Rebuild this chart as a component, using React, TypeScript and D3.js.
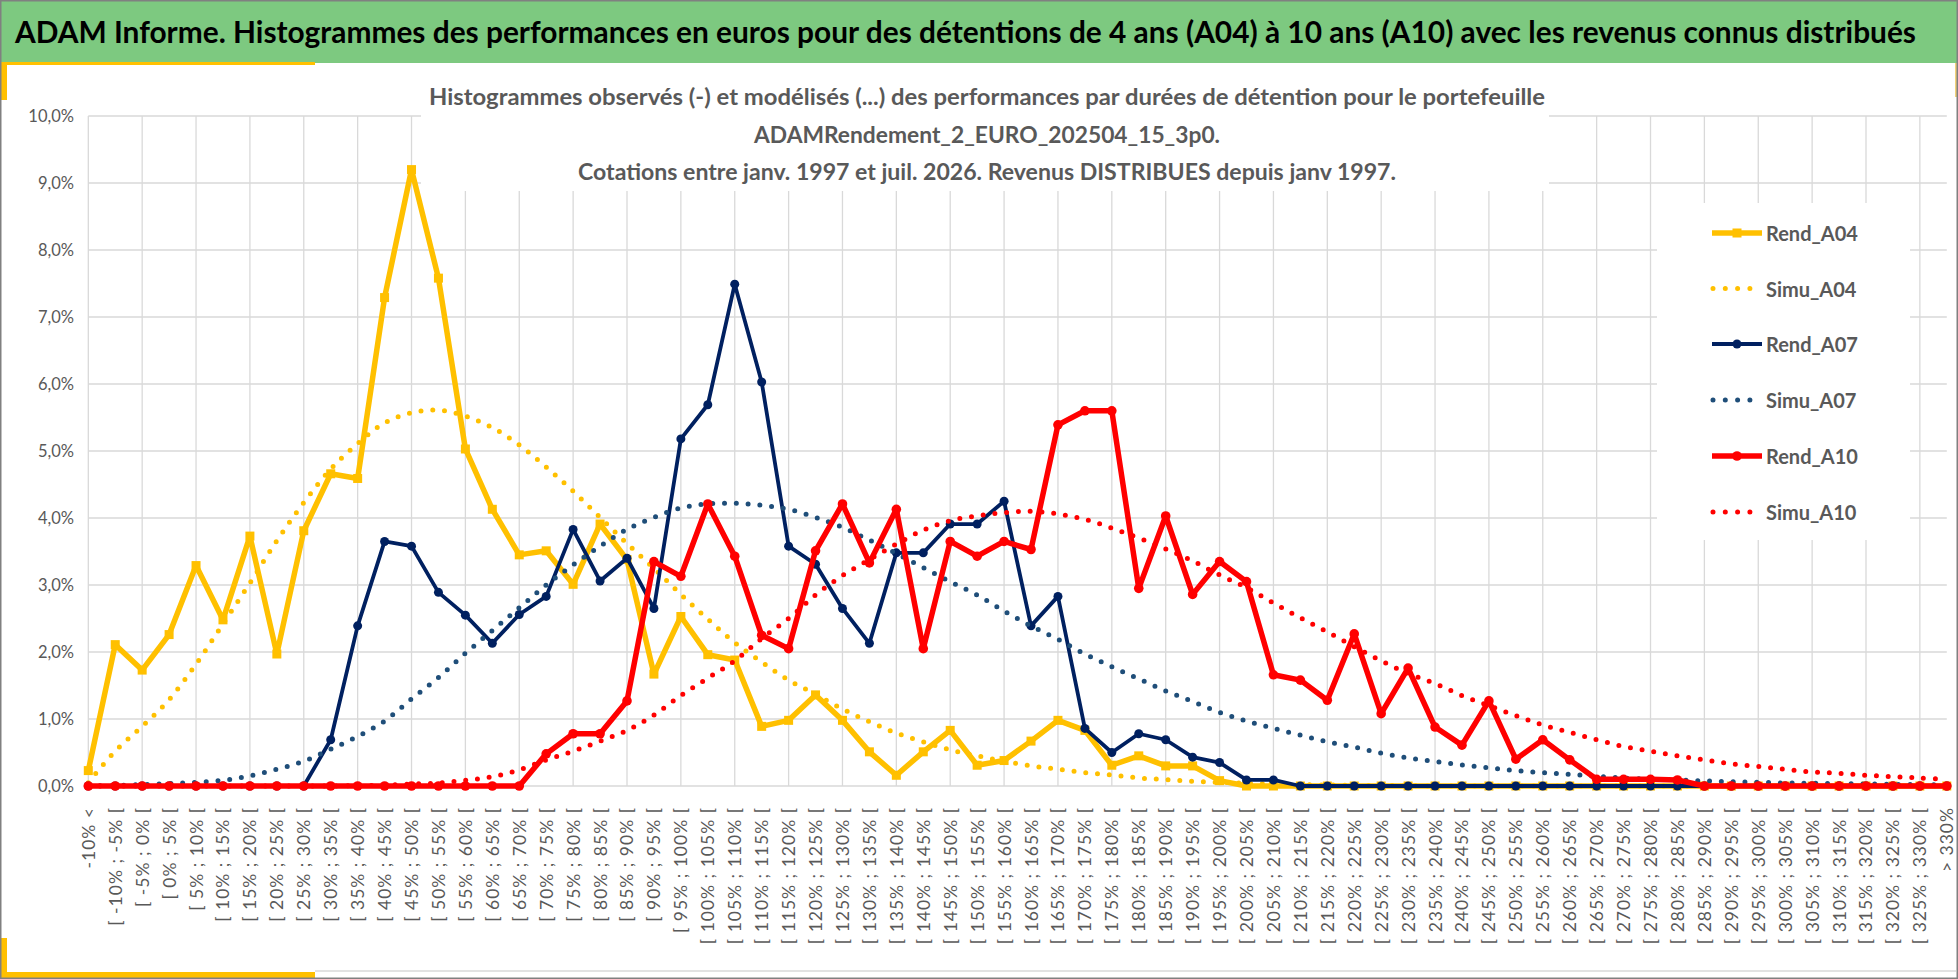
import React from 'react';
import * as d3 from 'd3';

const CATEGORIES: string[] = [
  '-10% <', '[ -10% ; -5% [', '[ -5% ; 0% [', '[ 0% ; 5% [', '[ 5% ; 10% [', '[ 10% ; 15% [', '[ 15% ; 20% [',
  '[ 20% ; 25% [', '[ 25% ; 30% [', '[ 30% ; 35% [', '[ 35% ; 40% [', '[ 40% ; 45% [', '[ 45% ; 50% [',
  '[ 50% ; 55% [', '[ 55% ; 60% [', '[ 60% ; 65% [', '[ 65% ; 70% [', '[ 70% ; 75% [', '[ 75% ; 80% [',
  '[ 80% ; 85% [', '[ 85% ; 90% [', '[ 90% ; 95% [', '[ 95% ; 100% [', '[ 100% ; 105% [', '[ 105% ; 110% [',
  '[ 110% ; 115% [', '[ 115% ; 120% [', '[ 120% ; 125% [', '[ 125% ; 130% [', '[ 130% ; 135% [', '[ 135% ; 140% [',
  '[ 140% ; 145% [', '[ 145% ; 150% [', '[ 150% ; 155% [', '[ 155% ; 160% [', '[ 160% ; 165% [', '[ 165% ; 170% [',
  '[ 170% ; 175% [', '[ 175% ; 180% [', '[ 180% ; 185% [', '[ 185% ; 190% [', '[ 190% ; 195% [', '[ 195% ; 200% [',
  '[ 200% ; 205% [', '[ 205% ; 210% [', '[ 210% ; 215% [', '[ 215% ; 220% [', '[ 220% ; 225% [', '[ 225% ; 230% [',
  '[ 230% ; 235% [', '[ 235% ; 240% [', '[ 240% ; 245% [', '[ 245% ; 250% [', '[ 250% ; 255% [', '[ 255% ; 260% [',
  '[ 260% ; 265% [', '[ 265% ; 270% [', '[ 270% ; 275% [', '[ 275% ; 280% [', '[ 280% ; 285% [', '[ 285% ; 290% [',
  '[ 290% ; 295% [', '[ 295% ; 300% [', '[ 300% ; 305% [', '[ 305% ; 310% [', '[ 310% ; 315% [', '[ 315% ; 320% [',
  '[ 320% ; 325% [', '[ 325% ; 330% [', '> 330%',
];

const REND_A04: number[] = [
  0.23, 2.11, 1.73, 2.26, 3.29, 2.48, 3.73, 1.97, 3.81, 4.66, 4.59, 7.29, 9.2, 7.58, 5.03, 4.13, 3.45, 3.51, 3.01, 3.91,
  3.38, 1.67, 2.53, 1.96, 1.88, 0.89, 0.98, 1.36, 0.98, 0.51, 0.16, 0.51, 0.83, 0.31, 0.38, 0.67, 0.98, 0.83, 0.31, 0.45,
  0.3, 0.3, 0.08, 0, 0, 0, 0, 0, 0, 0, 0, 0, 0, 0, 0, 0, 0, 0, 0, 0, 0, 0, 0, 0, 0, 0, 0, 0, 0, 0,
];

const SIMU_A04: number[] = [
  0.05, 0.52, 0.89, 1.29, 1.82, 2.42, 3.03, 3.66, 4.23, 4.73, 5.11, 5.42, 5.57, 5.61, 5.52, 5.35, 5.09, 4.76, 4.4, 4.01,
  3.62, 3.25, 2.86, 2.49, 2.14, 1.85, 1.58, 1.37, 1.15, 0.96, 0.79, 0.66, 0.54, 0.45, 0.37, 0.3, 0.25, 0.2, 0.165, 0.12,
  0.095, 0.07, 0.055, 0.04, 0.03, 0.02, 0.015, 0.01, 0.008, 0.005, 0, 0, 0, 0, 0, 0, 0, 0, 0, 0, 0, 0, 0, 0, 0, 0, 0, 0, 0, 0,
];

const REND_A07: number[] = [
  0, 0, 0, 0, 0, 0, 0, 0, 0, 0.69, 2.39, 3.65, 3.58, 2.89, 2.55, 2.13, 2.56, 2.83, 3.83, 3.06,
  3.4, 2.65, 5.18, 5.69, 7.49, 6.03, 3.58, 3.31, 2.65, 2.13, 3.48, 3.48, 3.91, 3.91, 4.25, 2.39, 2.83, 0.86, 0.5, 0.78,
  0.69, 0.43, 0.35, 0.09, 0.09, 0, 0, 0, 0, 0, 0, 0, 0, 0, 0, 0, 0, 0, 0, 0, 0, 0, 0, 0, 0, 0, 0, 0, 0, 0,
];

const SIMU_A07: number[] = [
  0, 0.01, 0.02, 0.035, 0.055, 0.085, 0.15, 0.25, 0.37, 0.55, 0.74, 0.97, 1.3, 1.62, 1.98, 2.32, 2.66, 3.0, 3.3, 3.58,
  3.83, 4.01, 4.15, 4.21, 4.22, 4.19, 4.13, 4.01, 3.86, 3.67, 3.47, 3.26, 3.05, 2.85, 2.61, 2.39, 2.19, 1.97, 1.78, 1.6,
  1.42, 1.26, 1.1, 0.97, 0.86, 0.76, 0.66, 0.58, 0.49, 0.42, 0.365, 0.315, 0.27, 0.23, 0.2, 0.175, 0.145, 0.12, 0.1, 0.09,
  0.075, 0.065, 0.055, 0.045, 0.04, 0.035, 0.03, 0.025, 0.02, 0.018,
];

const REND_A10: number[] = [
  0, 0, 0, 0, 0, 0, 0, 0, 0, 0, 0, 0, 0, 0, 0, 0, 0, 0.48, 0.78, 0.78,
  1.27, 3.35, 3.13, 4.21, 3.43, 2.25, 2.05, 3.51, 4.21, 3.33, 4.13, 2.05, 3.65, 3.43, 3.65, 3.53, 5.39, 5.6, 5.6, 2.95,
  4.03, 2.86, 3.35, 3.05, 1.66, 1.58, 1.28, 2.27, 1.08, 1.76, 0.88, 0.61, 1.27, 0.4, 0.69, 0.39, 0.1, 0.1, 0.1, 0.09,
  0, 0, 0, 0, 0, 0, 0, 0, 0, 0,
];

const SIMU_A10: number[] = [
  0, 0, 0, 0, 0, 0, 0, 0, 0, 0, 0.005, 0.01, 0.03, 0.045, 0.085, 0.14, 0.24, 0.39, 0.52, 0.67,
  0.83, 1.06, 1.35, 1.61, 1.87, 2.2, 2.5, 2.85, 3.14, 3.38, 3.61, 3.82, 3.96, 4.03, 4.08, 4.1, 4.06, 3.98, 3.85, 3.7,
  3.54, 3.36, 3.15, 2.96, 2.73, 2.51, 2.3, 2.08, 1.87, 1.68, 1.53, 1.35, 1.2, 1.05, 0.91, 0.8, 0.69, 0.59, 0.52, 0.45,
  0.39, 0.33, 0.29, 0.25, 0.21, 0.19, 0.16, 0.14, 0.12, 0.1,
];

const Y_TICKS: number[] = [0, 1, 2, 3, 4, 5, 6, 7, 8, 9, 10];
const Y_TICK_LABELS: string[] = ['0,0%', '1,0%', '2,0%', '3,0%', '4,0%', '5,0%', '6,0%', '7,0%', '8,0%', '9,0%', '10,0%'];

const SERIES_NAMES: string[] = ['Rend_A04', 'Simu_A04', 'Rend_A07', 'Simu_A07', 'Rend_A10', 'Simu_A10'];

const TITLE =
  'ADAM Informe. Histogrammes des performances en euros pour des détentions de 4 ans (A04) à 10 ans (A10) avec les revenus connus distribués';
const SUBTITLE: string[] = [
  'Histogrammes observés (-) et modélisés (...) des performances par durées de détention pour le portefeuille',
  'ADAMRendement_2_EURO_202504_15_3p0.',
  'Cotations  entre janv. 1997 et juil. 2026. Revenus DISTRIBUES depuis janv 1997.',
];

const W = 1958;
const H = 979;
const FONT = 'Lato, Calibri, "Open Sans", sans-serif';

type Style = {
  name: string;
  data: number[];
  color: string;
  width: number;
  dotted: boolean;
  marker: 'square' | 'circle' | 'none';
  msize: number;
};

export default function App() {
  const x = d3
    .scalePoint<string>()
    .domain(CATEGORIES)
    .range([88.3, 1946.8]);
  const y = d3.scaleLinear().domain([0, 10]).range([786, 116]);

  const straight = d3
    .line<number>()
    .x((_, i) => x(CATEGORIES[i]) as number)
    .y((d) => y(d));
  const smooth = d3
    .line<number>()
    .x((_, i) => x(CATEGORIES[i]) as number)
    .y((d) => y(d))
    .curve(d3.curveCatmullRom.alpha(0.5));

  const series: Style[] = [
    { name: SERIES_NAMES[0], data: REND_A04, color: '#FFC000', width: 5.5, dotted: false, marker: 'square', msize: 9 },
    { name: SERIES_NAMES[1], data: SIMU_A04, color: '#FFC000', width: 5, dotted: true, marker: 'none', msize: 0 },
    { name: SERIES_NAMES[2], data: REND_A07, color: '#002060', width: 3.8, dotted: false, marker: 'circle', msize: 4.5 },
    { name: SERIES_NAMES[3], data: SIMU_A07, color: '#1F4E79', width: 5, dotted: true, marker: 'none', msize: 0 },
    { name: SERIES_NAMES[4], data: REND_A10, color: '#FF0000', width: 5.5, dotted: false, marker: 'circle', msize: 4.8 },
    { name: SERIES_NAMES[5], data: SIMU_A10, color: '#FF0000', width: 5, dotted: true, marker: 'none', msize: 0 },
  ];

  const gridX = CATEGORIES.filter((_, i) => i % 2 === 0);
  const legendRows = [233, 288.5, 344, 400, 456, 512];

  return (
    <svg
      width={W}
      height={H}
      viewBox={`0 0 ${W} ${H}`}
      style={{ position: 'absolute', left: 0, top: 0, background: '#fff' }}
      fontFamily={FONT}
    >
      <rect x={0} y={0} width={W} height={H} fill="#ffffff" />
      {/* header */}
      <rect x={0} y={0} width={W} height={63} fill="#7DC980" />
      <text x={15} y={43} fontSize={30} fontWeight={700} fill="#000" textLength={1901} lengthAdjust="spacingAndGlyphs">
        {TITLE}
      </text>
      <rect x={0} y={62} width={315} height={3} fill="#FFC000" />
      <rect x={0} y={62} width={7} height={38} fill="#FFC000" />
      <rect x={1955} y={63} width={3} height={34} fill="#F2D27A" />
      <rect x={0} y={938} width={7} height={41} fill="#FFC000" />
      <rect x={0} y={972} width={315} height={7} fill="#FFC000" />
      <line x1={315} x2={1956} y1={971} y2={971} stroke="#D9D9D9" strokeWidth={1.5} />

      {/* gridlines */}
      <g stroke="#D9D9D9" strokeWidth={1.3}>
        {Y_TICKS.map((t) => (
          <line key={`h${t}`} x1={88.3} x2={1946.8} y1={y(t)} y2={y(t)} />
        ))}
        {gridX.map((c) => (
          <line key={`v${c}`} x1={x(c)} x2={x(c)} y1={y(10)} y2={y(0)} />
        ))}
      </g>

      {/* title box and legend box cover gridlines */}
      <rect x={421} y={68} width={1128} height={123} fill="#fff" />
      <rect x={1657} y={203} width={253} height={337} fill="#fff" />

      {/* y axis labels */}
      <g fontSize={16.5} fill="#595959" textAnchor="end">
        {Y_TICKS.map((t, i) => (
          <text key={`yl${t}`} x={74} y={y(t)} dominantBaseline="central">
            {Y_TICK_LABELS[i]}
          </text>
        ))}
      </g>

      {/* x axis labels */}
      <g fontSize={17.5} fill="#595959" textAnchor="end" letterSpacing={1}>
        {CATEGORIES.map((c) => (
          <text
            key={`xl${c}`}
            transform={`translate(${x(c)},807) rotate(-90)`}
            dominantBaseline="central"
          >
            {c}
          </text>
        ))}
      </g>

      {/* series */}
      {series.map((s) => (
        <g key={s.name}>
          <path
            d={(s.dotted ? smooth : straight)(s.data) || ''}
            fill="none"
            stroke={s.color}
            strokeWidth={s.width}
            strokeLinejoin="round"
            strokeLinecap="round"
            strokeDasharray={s.dotted ? '0 11.8' : undefined}
          />
          {s.marker === 'square' &&
            s.data.map((v, i) => (
              <rect
                key={i}
                x={(x(CATEGORIES[i]) as number) - s.msize / 2}
                y={y(v) - s.msize / 2}
                width={s.msize}
                height={s.msize}
                fill={s.color}
              />
            ))}
          {s.marker === 'circle' &&
            s.data.map((v, i) => (
              <circle key={i} cx={x(CATEGORIES[i]) as number} cy={y(v)} r={s.msize} fill={s.color} />
            ))}
        </g>
      ))}

      {/* subtitle */}
      <g fontSize={23} fontWeight={700} fill="#595959" textAnchor="middle">
        <text x={987} y={105} textLength={1116} lengthAdjust="spacingAndGlyphs">{SUBTITLE[0]}</text>
        <text x={987} y={143} textLength={466} lengthAdjust="spacingAndGlyphs">{SUBTITLE[1]}</text>
        <text x={987} y={180} textLength={818} lengthAdjust="spacingAndGlyphs">{SUBTITLE[2]}</text>
      </g>

      {/* legend */}
      {series.map((s, i) => (
        <g key={`lg${s.name}`}>
          {s.dotted ? (
            <line
              x1={1713}
              x2={1752}
              y1={legendRows[i]}
              y2={legendRows[i]}
              stroke={s.color}
              strokeWidth={s.width}
              strokeLinecap="round"
              strokeDasharray="0 12.3"
            />
          ) : (
            <line x1={1712} x2={1762} y1={legendRows[i]} y2={legendRows[i]} stroke={s.color} strokeWidth={s.width} />
          )}
          {s.marker === 'square' && (
            <rect x={1737 - s.msize / 2} y={legendRows[i] - s.msize / 2} width={s.msize} height={s.msize} fill={s.color} />
          )}
          {s.marker === 'circle' && <circle cx={1737} cy={legendRows[i]} r={s.msize} fill={s.color} />}
          <text
            x={1766}
            y={legendRows[i]}
            dominantBaseline="central"
            fontSize={20}
            fontWeight={700}
            fill="#595959"
          >
            {s.name}
          </text>
        </g>
      ))}

      <rect x={0.75} y={0.75} width={W - 1.5} height={H - 1.5} fill="none" stroke="#808080" strokeWidth={1.5} />
    </svg>
  );
}
